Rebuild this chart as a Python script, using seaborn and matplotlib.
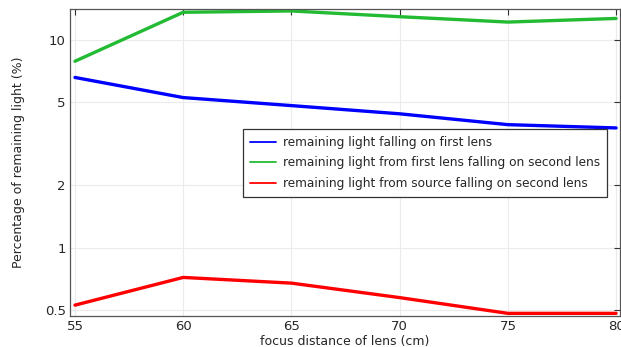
import matplotlib
matplotlib.use("Agg")
import matplotlib.pyplot as plt
import seaborn as sns
import pandas as pd
from matplotlib.ticker import FixedLocator, FixedFormatter, NullLocator
from matplotlib.lines import Line2D

focus_cm = [55, 60, 65, 70, 75, 80]
first_lens = [6.6, 5.28, 4.83, 4.41, 3.91, 3.77]
first_to_second = [7.9, 13.6, 13.8, 12.95, 12.2, 12.7]
source_to_second = [0.528, 0.718, 0.674, 0.574, 0.482, 0.482]

series_names = [
    "remaining light falling on first lens",
    "remaining light from first lens falling on second lens",
    "remaining light from source falling on second lens",
]
series_colors = ["#0000ff", "#22bb33", "#ff0000"]
y_ticks = [0.5, 1, 2, 5, 10]
y_tick_labels = ["0.5", "1", "2", "5", "10"]
x_ticks = [55, 60, 65, 70, 75, 80]

df = pd.DataFrame({
    "focus": focus_cm * 3,
    "value": first_lens + first_to_second + source_to_second,
    "series": [series_names[0]] * 6 + [series_names[1]] * 6 + [series_names[2]] * 6,
})

sns.set_style("white")
plt.rcParams["font.family"] = ["DejaVu Sans"]

fig = plt.figure(figsize=(6.21, 3.47), dpi=100)
ax = fig.add_axes([0.1127, 0.0893, 0.8857, 0.8847])

sns.lineplot(data=df, x="focus", y="value", hue="series", palette=series_colors,
             hue_order=series_names, linewidth=2.4, ax=ax, legend=False)

ax.set_yscale("log")
ax.set_xlim(54.77, 80.18)
ax.set_ylim(0.468, 14.1)
ax.yaxis.set_major_locator(FixedLocator(y_ticks))
ax.yaxis.set_major_formatter(FixedFormatter(y_tick_labels))
ax.yaxis.set_minor_locator(NullLocator())
ax.set_xticks(x_ticks)
ax.set_xticklabels([str(v) for v in x_ticks])

ax.grid(True, color="#ebebeb", linewidth=0.8)
ax.tick_params(axis="both", which="major", direction="in", top=True, right=True,
               length=4, width=0.8, color="#333333", labelsize=9.5, pad=3)
for s in ax.spines.values():
    s.set_color("#555555")
    s.set_linewidth(0.9)

ax.set_xlabel("focus distance of lens (cm)", fontsize=9, labelpad=1)
ax.set_ylabel("Percentage of remaining light (%)", fontsize=9, labelpad=14)

handles = [Line2D([0], [0], color=c, linewidth=1.3) for c in series_colors]
leg = ax.legend(handles, series_names, loc="upper left",
                bbox_to_anchor=(0.315, 0.61), fontsize=8.7, frameon=True,
                fancybox=False, edgecolor="#333333", framealpha=1,
                handlelength=2.1, handletextpad=0.55, labelspacing=0.62,
                borderpad=0.6, borderaxespad=0)
leg.get_frame().set_linewidth(0.9)

fig.savefig("out.png", dpi=100)
